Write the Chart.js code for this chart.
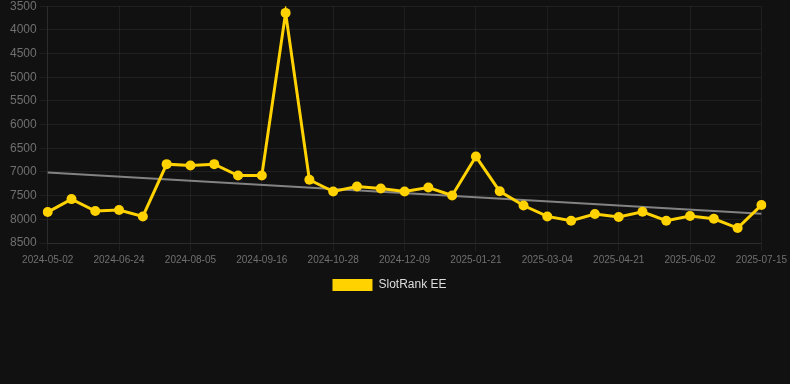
<!DOCTYPE html>
<html>
<head>
<meta charset="utf-8">
<script src="https://cdn.jsdelivr.net/npm/chart.js@4"></script>
<style>
  html, body { margin: 0; padding: 0; background: #111111; overflow: hidden; }
  #wrap { width: 790px; height: 305px; position: relative; top: -4px; }
</style>
</head>
<body>
<div id="wrap"><canvas id="c"></canvas></div>
<script>
const dates = [
  "2024-05-02","2024-05-20","2024-06-06","2024-06-24","2024-07-08","2024-07-22",
  "2024-08-05","2024-08-19","2024-09-02","2024-09-16","2024-09-30","2024-10-14",
  "2024-10-28","2024-11-11","2024-11-25","2024-12-09","2024-12-23","2025-01-06",
  "2025-01-21","2025-02-04","2025-02-18","2025-03-04","2025-03-18","2025-04-03",
  "2025-04-21","2025-05-05","2025-05-19","2025-06-02","2025-06-16","2025-06-30",
  "2025-07-15"
];
const rankValues = [
  7847, 7573, 7826, 7805, 7939, 6835,
  6865, 6835, 7076, 7076, 3641, 7166,
  7413, 7307, 7350, 7413, 7328, 7497,
  6675, 7408, 7708, 7939, 8030, 7889,
  7952, 7840, 8030, 7931, 7988, 8184,
  7699
];
const trendStart = 7012;
const trendEnd = 7883;
const yMin = 3500, yMax = 8500, yStep = 500;
const seriesName = "SlotRank EE";

const yellow = "rgb(255,210,0)";
const font = "'Liberation Sans', Arial, Helvetica, sans-serif";

new Chart(document.getElementById("c"), {
  type: "line",
  data: {
    labels: dates,
    datasets: [
      {
        label: seriesName,
        data: rankValues,
        borderColor: yellow,
        backgroundColor: yellow,
        borderWidth: 3,
        pointRadius: 5,
        pointHoverRadius: 5,
        pointBackgroundColor: yellow,
        pointBorderColor: yellow,
        pointBorderWidth: 0,
        tension: 0,
        order: 1
      },
      {
        label: "trend",
        data: [{x: dates[0], y: trendStart}, {x: dates[dates.length - 1], y: trendEnd}],
        borderColor: "rgba(150,150,150,0.85)",
        backgroundColor: "rgba(150,150,150,0.85)",
        borderWidth: 2,
        pointRadius: 0,
        tension: 0,
        order: 2
      }
    ]
  },
  options: {
    responsive: true,
    maintainAspectRatio: false,
    animation: false,
    layout: { padding: { left: 7, right: 18, top: 0, bottom: 0 } },
    plugins: {
      legend: {
        position: "bottom",
        labels: {
          color: "#dddddd",
          font: { family: font, size: 12 },
          boxWidth: 40,
          boxHeight: 12,
          padding: 10,
          filter: (item) => item.text !== "trend",
          generateLabels: (chart) => {
            const items = Chart.defaults.plugins.legend.labels.generateLabels(chart);
            items.forEach(i => { i.lineWidth = 0; });
            return items;
          }
        }
      },
      tooltip: { enabled: false }
    },
    scales: {
      x: {
        type: "category",
        offset: false,
        grid: {
          color: (ctx) => (ctx.index % 3 === 0 ? "rgba(255,255,255,0.06)" : "transparent"),
          tickColor: (ctx) => (ctx.index % 3 === 0 ? "rgba(255,255,255,0.06)" : "transparent")
        },
        border: { color: "rgba(255,255,255,0.06)" },
        ticks: {
          autoSkip: false,
          maxRotation: 0,
          minRotation: 0,
          color: "#707070",
          font: { family: font, size: 10 },
          callback: function (val, idx) { return idx % 3 === 0 ? this.getLabelForValue(val) : ""; }
        }
      },
      y: {
        reverse: true,
        min: yMin,
        max: yMax,
        grid: { color: "rgba(255,255,255,0.06)" },
        border: { color: "rgba(255,255,255,0.06)" },
        ticks: {
          stepSize: yStep,
          color: "#707070",
          font: { family: font, size: 12 },
          callback: (v) => String(v)
        }
      }
    }
  }
});
</script>
</body>
</html>
